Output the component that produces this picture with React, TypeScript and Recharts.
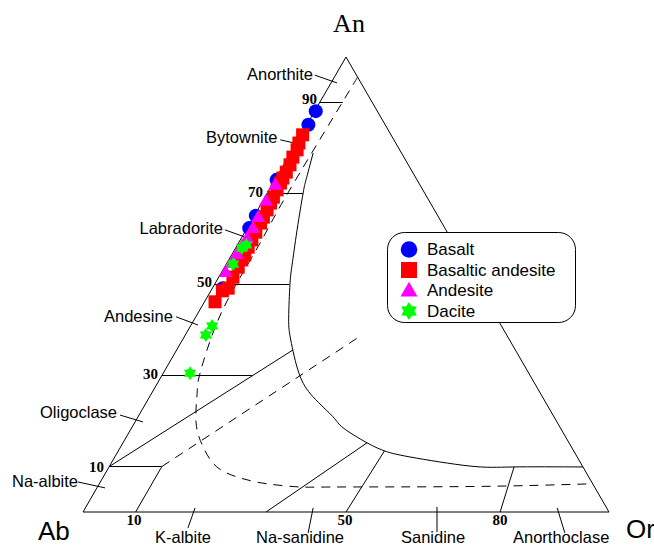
import React from 'react'
import { ComposedChart, Line, Scatter, XAxis, YAxis } from 'recharts'

// every composition is [An, Or] in mol %, Ab = 100 - An - Or
type Tern = [number, number]

const basalt: Tern[] = [
  [88.1, 0.2], [85.1, 0.3], [73.0, 0.3], [65.1, 0.3], [62.4, 0.4], [49.2, 2.0],
]
const basalticAndesite: Tern[] = [
  [82.9, 0.3], [81.1, 0.5], [79.6, 0.9], [78.0, 0.9], [76.3, 1.2], [74.7, 1.3],
  [73.4, 1.3], [72.3, 1.4], [70.8, 1.5], [69.2, 1.6], [67.9, 1.7], [66.4, 1.8],
  [64.8, 1.9], [63.5, 2.0], [61.5, 2.1], [59.8, 2.2], [58.2, 2.3], [56.5, 2.5],
  [55.4, 2.5], [53.8, 2.6], [51.6, 2.7], [49.2, 3.0], [48.6, 2.2], [46.2, 2.0],
]
const andesite: Tern[] = [
  [71.9, 0.6], [68.4, 0.6], [64.8, 0.9], [62.4, 1.1], [60.2, 1.1], [58.5, 1.0],
  [56.7, 0.9], [54.7, 1.0], [52.7, 0.8],
]
const dacite: Tern[] = [
  [58.7, 1.7], [58.0, 1.2], [54.5, 1.3], [40.9, 4.1], [38.9, 3.9], [30.5, 5.1],
]

// diagram frame and field boundaries
const outline: Tern[] = [[0, 0], [0, 100], [100, 0], [0, 0]]
const anTicks: Tern[][] = [
  [[90, 0], [90, 4.4]],
  [[70, 0], [70, 6.8]],
  [[50, 0], [50, 14.2]],
  [[30, 0], [30, 17.1]],
  [[10, 0], [10, 10], [0, 10]],
]
const fieldLines: Tern[][] = [
  [[10, 0], [35.6, 22.1]],
  [[0, 34.8], [15.2, 46.4]],
  [[0, 50], [13.4, 50.6]],
  [[0, 79.3], [9.9, 77.0]],
]
const solvus: Tern[] = [
  [78.9, 4.3], [73.0, 5.9], [70.1, 6.8], [62.0, 9.7], [54.3, 12.6], [50.1, 14.3],
  [42.6, 17.8], [37.8, 20.6], [30.5, 25.8], [25.3, 31.1], [20.9, 37.1], [18.5, 40.2],
  [15.2, 46.4], [13.4, 50.7], [12.1, 56.1], [10.1, 68.5], [9.9, 76.8], [9.9, 90.1],
]
const dashedCurve: Tern[] = [
  [95.6, 4.4], [90.5, 4.3], [70.1, 3.9], [59.8, 4.1], [50.3, 4.1], [40.7, 4.8],
  [30.5, 7.0], [26.2, 8.6], [19.6, 11.7], [14.3, 15.7], [9.9, 20.5], [7.5, 26.1],
  [6.2, 31.9], [5.5, 38.5], [5.5, 46.1], [5.6, 70.8], [6.2, 93.8],
]
const dashedLine: Tern[] = [[10, 10], [38.2, 33.0]]
const leaders: Tern[][] = [
  [[96.0, -3.9], [94.3, 1.15]],
  [[81.8, -3.4], [80.7, 1.3]],
  [[62.0, -4.0], [60.2, 1.26]],
  [[42.9, -3.75], [41.1, 1.31]],
  [[21.3, -3.6], [19.8, 1.5]],
  [[6.6, -4.25], [5.3, 1.54]],
  [[-3.5, 21.7], [0.9, 20.85]],
  [[-4.6, 45.1], [0.9, 43.3]],
  [[-4.4, 69.5], [1.1, 66.75]],
  [[-4.6, 93.9], [0.9, 89.7]],
]

const W = 654
const H = 546
const AB_X = 83
const OR_X = 609
const BASE_Y = 512
const APEX_Y = 57
const kx = (OR_X - AB_X) / 100
const ky = (BASE_Y - APEX_Y) / 100
const xDomain = [-AB_X / kx, (W - AB_X) / kx]
const yDomain = [-(H - BASE_Y) / ky, BASE_Y / ky]

const toXY = ([an, or]: Tern) => ({ x: or + an / 2, y: an })

const sans = '"Liberation Sans", Arial, sans-serif'
const serif = '"Liberation Serif", "Times New Roman", serif'

const Dot = ({ cx, cy, r = 7 }: any) => <circle cx={cx} cy={cy} r={r} fill="#0000FF" />
const Square = ({ cx, cy, s = 13 }: any) => (
  <rect x={cx - s / 2} y={cy - s / 2} width={s} height={s} fill="#FF0000" />
)
const Tri = ({ cx, cy, s = 14 }: any) => {
  const h = s * 0.87
  return (
    <polygon
      points={`${cx},${cy - h * 0.6} ${cx - s / 2},${cy + h * 0.4} ${cx + s / 2},${cy + h * 0.4}`}
      fill="#FF00FF"
    />
  )
}
const Star = ({ cx, cy, r = 7 }: any) => {
  const pts: string[] = []
  for (let i = 0; i < 12; i++) {
    const rr = i % 2 === 0 ? r : r * 0.6
    const a = -Math.PI / 2 + (i * Math.PI) / 6
    pts.push(`${cx + rr * Math.cos(a)},${cy + rr * Math.sin(a)}`)
  }
  return <polygon points={pts.join(' ')} fill="#00FF00" />
}

const series = [
  { name: 'Basalt', data: basalt, Shape: Dot, big: { r: 8.3 } },
  { name: 'Basaltic andesite', data: basalticAndesite, Shape: Square, big: { s: 16 } },
  { name: 'Andesite', data: andesite, Shape: Tri, big: { s: 17 } },
  { name: 'Dacite', data: dacite, Shape: Star, big: { r: 9 } },
]

const fieldNames = [
  { text: 'Anorthite', x: 313, y: 80, anchor: 'end' },
  { text: 'Bytownite', x: 206, y: 143, anchor: 'start' },
  { text: 'Labradorite', x: 223, y: 234, anchor: 'end' },
  { text: 'Andesine', x: 104, y: 322, anchor: 'start' },
  { text: 'Oligoclase', x: 40, y: 418, anchor: 'start' },
  { text: 'Na-albite', x: 12, y: 487, anchor: 'start' },
  { text: 'K-albite', x: 155, y: 543, anchor: 'start' },
  { text: 'Na-sanidine', x: 256, y: 543, anchor: 'start' },
  { text: 'Sanidine', x: 401, y: 543, anchor: 'start' },
  { text: 'Anorthoclase', x: 513, y: 543, anchor: 'start' },
]
const numLabels = [
  { text: '90', x: 317, y: 104, anchor: 'end' },
  { text: '70', x: 263, y: 197, anchor: 'end' },
  { text: '50', x: 212, y: 287, anchor: 'end' },
  { text: '30', x: 158, y: 379, anchor: 'end' },
  { text: '10', x: 104, y: 472, anchor: 'end' },
  { text: '10', x: 134, y: 525, anchor: 'middle' },
  { text: '50', x: 345, y: 525, anchor: 'middle' },
  { text: '80', x: 500, y: 525, anchor: 'middle' },
]

const lineProps = {
  dataKey: 'y',
  stroke: '#000',
  strokeWidth: 1,
  dot: false,
  activeDot: false,
  isAnimationActive: false,
  legendType: 'none' as const,
}

export default function App() {
  return (
    <div style={{ position: 'absolute', left: 0, top: 0, width: W, height: H, background: '#fff' }}>
      <ComposedChart width={W} height={H} margin={{ top: 0, right: 0, bottom: 0, left: 0 }}>
        <XAxis type="number" dataKey="x" domain={xDomain} allowDataOverflow hide />
        <YAxis type="number" dataKey="y" domain={yDomain} allowDataOverflow hide />
        <Line {...lineProps} data={outline.map(toXY)} type="linear" />
        {anTicks.map((seg, i) => (
          <Line key={'t' + i} {...lineProps} data={seg.map(toXY)} type="linear" />
        ))}
        {fieldLines.map((seg, i) => (
          <Line key={'f' + i} {...lineProps} data={seg.map(toXY)} type="linear" />
        ))}
        {leaders.map((seg, i) => (
          <Line key={'l' + i} {...lineProps} data={seg.map(toXY)} type="linear" />
        ))}
        <Line {...lineProps} data={solvus.map(toXY)} type="natural" />
        <Line {...lineProps} data={dashedCurve.map(toXY)} type="natural" strokeDasharray="9 7" />
        <Line {...lineProps} data={dashedLine.map(toXY)} type="linear" strokeDasharray="9 7" />
        {series.map((s) => (
          <Scatter
            key={s.name}
            name={s.name}
            data={s.data.map(toXY)}
            dataKey="y"
            shape={(p: any) => <s.Shape cx={p.cx} cy={p.cy} />}
            isAnimationActive={false}
          />
        ))}
      </ComposedChart>
      <svg
        width={W}
        height={H}
        style={{ position: 'absolute', left: 0, top: 0, pointerEvents: 'none' }}
      >
        <text x={349} y={32} textAnchor="middle" fontFamily={serif} fontSize={26}>An</text>
        <text x={38} y={540} fontFamily={sans} fontSize={26}>Ab</text>
        <text x={626} y={538} fontFamily={sans} fontSize={26}>Or</text>
        {fieldNames.map((l, i) => (
          <text key={i} x={l.x} y={l.y} textAnchor={l.anchor} fontFamily={sans} fontSize={16.5}>
            {l.text}
          </text>
        ))}
        {numLabels.map((l, i) => (
          <text key={i} x={l.x} y={l.y} textAnchor={l.anchor} fontFamily={serif} fontWeight="bold" fontSize={15}>
            {l.text}
          </text>
        ))}
        <g transform="translate(387,232)">
          <rect x={0.5} y={0.5} width={188} height={90} rx={17} fill="#fff" stroke="#000" strokeWidth={1} />
          {series.map((s, i) => {
            const cy = 17.5 + i * 20.5
            return (
              <g key={s.name}>
                <s.Shape cx={22} cy={cy} {...s.big} />
                <text x={40} y={cy + 5.5} fontFamily={sans} fontSize={17}>{s.name}</text>
              </g>
            )
          })}
        </g>
      </svg>
    </div>
  )
}
